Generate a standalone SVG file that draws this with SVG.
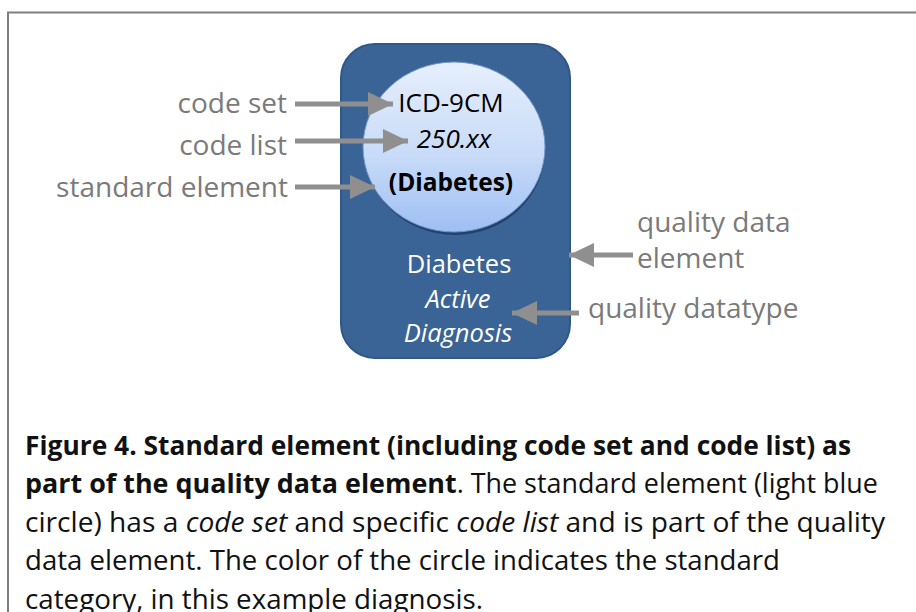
<svg xmlns="http://www.w3.org/2000/svg" width="916" height="612" viewBox="0 0 916 612">
  <style>
    .lbl { font-family: "Open Sans", "Liberation Sans", sans-serif; font-size: 28px; fill: #7a7a7a; }
    .inner { font-family: "Open Sans", "Liberation Sans", sans-serif; fill: #000; text-anchor: middle; }
    .white { font-family: "Open Sans", "Liberation Sans", sans-serif; font-size: 25.5px; fill: #ffffff; text-anchor: middle; }
    .cap { font-family: "Open Sans", "Liberation Sans", sans-serif; font-size: 27px; fill: #111; }
    .arrow { stroke: #8f8f8f; stroke-width: 5; fill: none; marker-end: url(#head); }
    .frame { stroke: #7f7f7f; stroke-width: 2; fill: none; }
  </style>
  <defs>
    <marker id="head" markerUnits="userSpaceOnUse" markerWidth="26" markerHeight="26" refX="25" refY="12" orient="auto">
      <path d="M0,0 L25,12 L0,24 z" fill="#8f8f8f"/>
    </marker>
    <linearGradient id="disc" x1="0" y1="0" x2="0" y2="1">
      <stop offset="0" stop-color="#e6effc"/>
      <stop offset="0.55" stop-color="#c8dbf8"/>
      <stop offset="1" stop-color="#9ebff3"/>
    </linearGradient>
  </defs>

  <!-- figure frame -->
  <path class="frame" d="M8,612 V12.5 H916"/>

  <!-- quality data element -->
  <g id="quality-data-element">
    <rect x="341" y="44" width="229" height="314" rx="34" fill="#3a6396" stroke="#2f5787" stroke-width="2"/>
    <text class="white" x="459" y="273">Diabetes</text>
    <text class="white" x="458" y="308" font-style="italic">Active</text>
    <text class="white" x="458" y="342" font-style="italic">Diagnosis</text>
  </g>

  <!-- standard element -->
  <g id="standard-element">
    <ellipse cx="455" cy="150" rx="90" ry="85" fill="#1f3c63" opacity="0.85"/>
    <ellipse cx="454" cy="147" rx="91" ry="85" fill="url(#disc)" stroke="#6f95cc" stroke-width="1"/>
    <text class="inner" x="451" y="112" font-size="26">ICD-9CM</text>
    <text class="inner" x="454" y="148" font-size="26" font-style="italic">250.xx</text>
    <text class="inner" x="451" y="191" font-size="24.5" font-weight="bold">(Diabetes)</text>
  </g>

  <!-- labels -->
  <g id="label-code-set"><text class="lbl" x="287" y="113" text-anchor="end">code set</text></g>
  <g id="label-code-list"><text class="lbl" x="287" y="155" text-anchor="end">code list</text></g>
  <g id="label-standard-element"><text class="lbl" x="288" y="197" text-anchor="end">standard element</text></g>
  <g id="label-quality-data-element">
    <text class="lbl" x="637" y="232">quality data</text>
    <text class="lbl" x="637" y="268">element</text>
  </g>
  <g id="label-quality-datatype"><text class="lbl" x="588" y="318">quality datatype</text></g>

  <!-- connectors -->
  <g id="connectors">
    <line class="arrow" x1="295" y1="104" x2="393" y2="104"/>
    <line class="arrow" x1="295" y1="141" x2="408" y2="141"/>
    <line class="arrow" x1="295" y1="187" x2="375" y2="187"/>
    <line class="arrow" x1="633" y1="255" x2="569" y2="255"/>
    <line class="arrow" x1="579" y1="313" x2="512" y2="313"/>
  </g>

  <!-- caption -->
  <g id="caption">
    <text class="cap" x="25" y="455" font-weight="bold" textLength="826" lengthAdjust="spacingAndGlyphs">Figure 4. Standard element (including code set and code list) as</text>
    <text class="cap" x="25" y="493" textLength="853" lengthAdjust="spacingAndGlyphs"><tspan font-weight="bold">part of the quality data element</tspan>. The standard element (light blue</text>
    <text class="cap" x="25" y="532" textLength="860" lengthAdjust="spacingAndGlyphs">circle) has a <tspan font-style="italic">code set</tspan> and specific <tspan font-style="italic">code list</tspan> and is part of the quality</text>
    <text class="cap" x="25" y="570" textLength="755" lengthAdjust="spacingAndGlyphs">data element. The color of the circle indicates the standard</text>
    <text class="cap" x="25" y="609" textLength="458" lengthAdjust="spacingAndGlyphs">category, in this example diagnosis.</text>
  </g>
</svg>
